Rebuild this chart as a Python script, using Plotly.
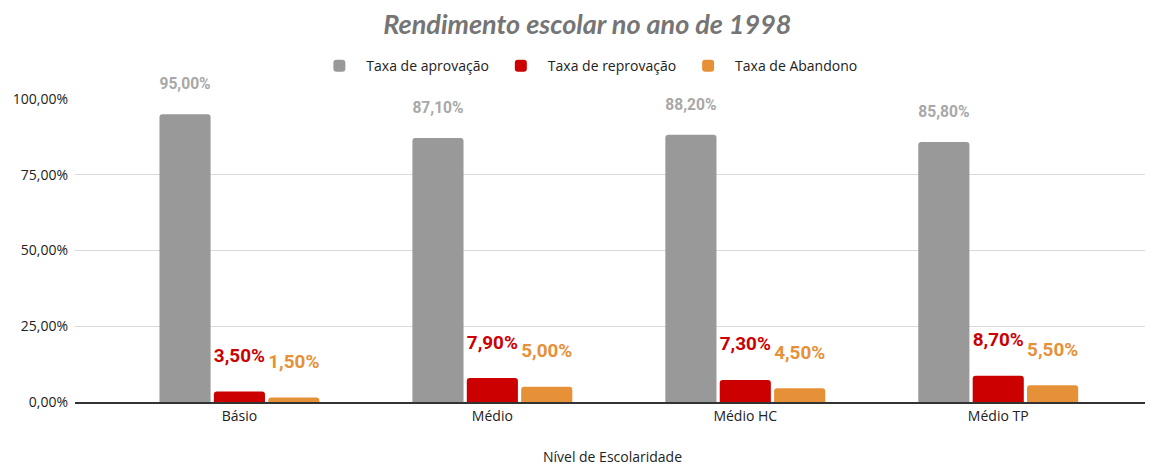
import plotly.graph_objects as go

niveis = ["Básio", "Médio", "Médio HC", "Médio TP"]
aprovacao = [95.0, 87.1, 88.2, 85.8]
reprovacao = [3.5, 7.9, 7.3, 8.7]
abandono = [1.5, 5.0, 4.5, 5.5]

series = [
    ("Taxa de aprovação", aprovacao, "#999999", "#a8a8a8"),
    ("Taxa de reprovação", reprovacao, "#cc0000", "#cc0000"),
    ("Taxa de Abandono", abandono, "#e69138", "#e69138"),
]

fig = go.Figure()
for nome, valores, cor, cor_texto in series:
    fig.add_trace(go.Bar(
        name=nome, x=niveis, y=valores,
        marker=dict(color=cor, line=dict(width=0), cornerradius=3),
        texttemplate="%{y:.2f}%<br><span style='font-size:7px'>&nbsp;</span>",
        textposition="outside",
        textfont=dict(family="Roboto", size=19, color=cor_texto, weight="bold"),
        cliponaxis=False,
    ))

# a pagina desloca a figura 8px (margem do body), por isso 1145x458
fig.update_layout(
    width=1145, height=458,
    separators=",.",
    barmode="group", bargap=0.355, bargroupgap=0.06,
    plot_bgcolor="white", paper_bgcolor="white",
    margin=dict(l=67, r=3, t=91, b=64, autoexpand=False),
    font=dict(family="Open Sans", size=14, color="#222222"),
    title=dict(text="<b><i>Rendimento escolar no ano de 1998</i></b>",
               x=0.506, xanchor="center", y=0.963, yanchor="middle", yref="container",
               font=dict(family="Lato", size=27, color="#757575")),
    legend=dict(orientation="h", x=0.506, xanchor="center", xref="container",
                y=0.873, yanchor="middle", yref="container",
                font=dict(size=14, color="#222222"), itemwidth=44, tracegroupgap=0),
    xaxis=dict(range=[-0.65, 3.6], showline=True, linecolor="#333333", linewidth=1.5,
               ticks="", automargin=False, tickfont=dict(size=14),
               title=dict(text="Nível de Escolaridade", standoff=30, font=dict(size=14))),
    yaxis=dict(range=[0, 100], dtick=25, tickformat=".2f", ticksuffix="%",
               gridcolor="#d9d9d9", gridwidth=1.2, zeroline=False, automargin=False,
               tickfont=dict(size=14), ticklabelstandoff=6),
)

fig.write_html("out.html")
